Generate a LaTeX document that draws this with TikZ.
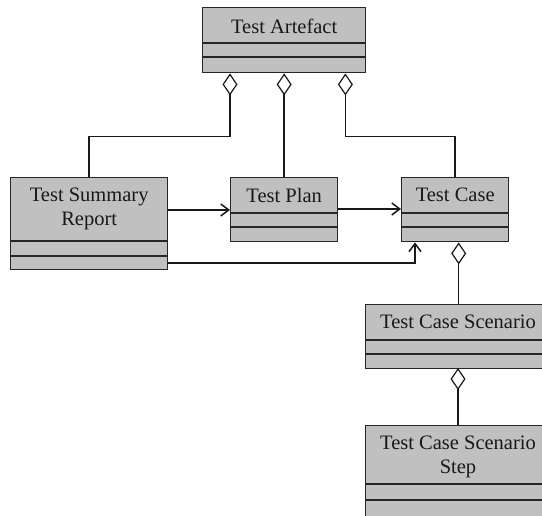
\documentclass[tikz,border=0pt]{standalone}
\usepackage{fontspec}
\setmainfont{Liberation Serif}
\usetikzlibrary{arrows.meta,calc}
\definecolor{boxgray}{RGB}{192,192,192}
\begin{document}
\begin{tikzpicture}[x=1pt,y=-1pt,
  classbox/.style={draw=black!85, line width=1.4pt, fill=boxgray, rectangle, anchor=north west, inner sep=0pt},
  title/.style={font=\fontsize{20.5}{24}\selectfont, align=center, anchor=north, inner sep=0pt, text=black!90},
  sep/.style={draw=black!85, line width=1.4pt},
  link/.style={draw=black!90, line width=1.5pt},
  agg/.style={link, {Diamond[open, length=22pt, width=15pt, line width=1.2pt]}-},
  nav/.style={link, -{Straight Barb[length=8pt, width=12pt, line width=1.5pt]}}
]
\useasboundingbox (0,0) rectangle (542,516);
\fill[white] (0,0) rectangle (542,516);

% Test Artefact
\node[classbox, minimum width=163pt, minimum height=65pt] (art) at (202,7) {};
\node[title] (artT) at ($(art.north)+(0,12)$) {Test Artefact};
\draw[sep] (202,43) -- (365,43) (202,57) -- (365,57);

% Test Summary Report
\node[classbox, minimum width=157pt, minimum height=92pt] (tsr) at (10,177) {};
\node[title] (tsrT) at ($(tsr.north)+(0,11)$) {Test Summary\\Report};
\draw[sep] (10,241) -- (167,241) (10,256) -- (167,256);

% Test Plan
\node[classbox, minimum width=107pt, minimum height=64pt] (tp) at (230,177) {};
\node[title] (tpT) at ($(tp.north)+(0,11)$) {Test Plan};
\draw[sep] (230,213) -- (337,213) (230,227) -- (337,227);

% Test Case
\node[classbox, minimum width=107pt, minimum height=64pt] (tc) at (401,177) {};
\node[title] (tcT) at ($(tc.north)+(0,11)$) {Test Case};
\draw[sep] (401,213) -- (508,213) (401,227) -- (508,227);

% Test Case Scenario
\node[classbox, minimum width=190pt, minimum height=64pt] (tcs) at (365,304) {};
\node[title] (tcsT) at (458,315) {Test Case Scenario};
\draw[sep] (365,340) -- (555,340) (365,354) -- (555,354);

% Test Case Scenario Step
\node[classbox, minimum width=190pt, minimum height=110pt] (tcss) at (365,425) {};
\node[title] (tcssT) at (458,436) {Test Case Scenario\\Step};
\draw[sep] (365,484) -- (555,484) (365,500) -- (555,500);

% aggregations
\draw[agg] ($(art.south west)+(28,0)$) -- ++(0,63) -| (tsr.north);
\draw[agg] (art.south) -- (tp.north);
\draw[agg] ($(art.south east)+(-21,0)$) -- ++(0,63) -| (tc.north);
\coordinate (tcAgg) at ($(tc.south)+(3.5,0)$);
\draw[agg] (tcAgg) -- (tcAgg |- tcs.north);
\draw[agg] (458,368) -- (tcss.north -| 458,0);

% navigable associations
\draw[nav] (tsr.east |- 0,210) -- (tp.west |- 0,210);
\draw[nav] (tp.east |- 0,209) -- (tc.west |- 0,209);
\coordinate (tsrLow) at (167,263);
\draw[nav] (tsrLow) -| ($(tc.south west)+(14,0)$);
\end{tikzpicture}
\end{document}
